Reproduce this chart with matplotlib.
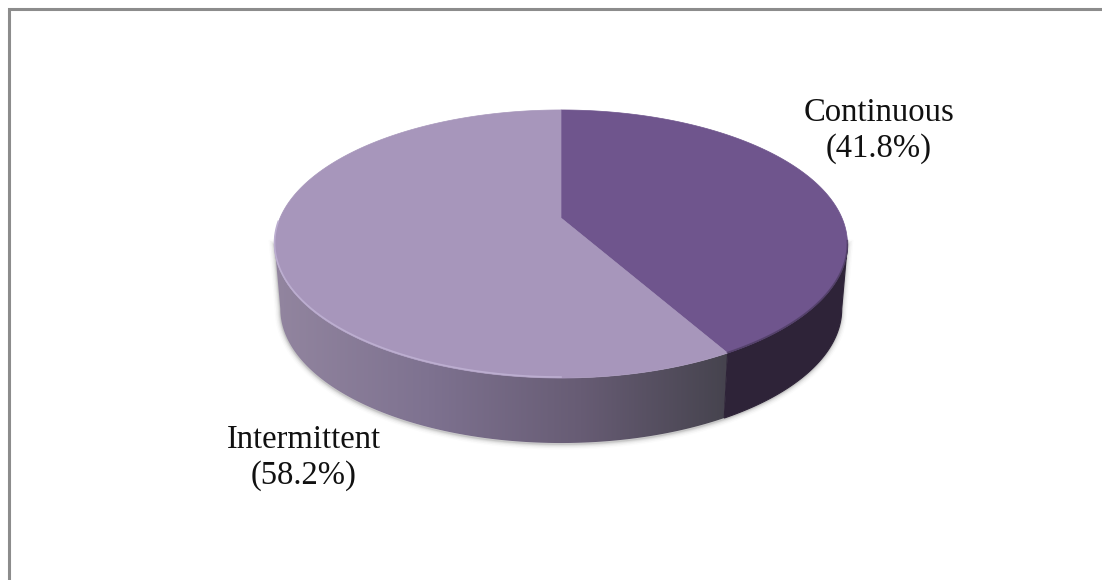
import numpy as np
import matplotlib
matplotlib.use('Agg')
import matplotlib.pyplot as plt
from matplotlib.colors import LinearSegmentedColormap
from matplotlib.patches import Polygon

# data
labels = ['Continuous', 'Intermittent']
shares = [41.8, 58.2]
top_colors = ['#6f558d', '#a796bb']
side_color = '#2e2338'
side_stops = ['#92859f', '#7e7290', '#675c74', '#44424c']

# pie geometry in pixels (perspective view of a disc)
cx, cy = 561, 218
rx = 281
ry = 86.7
persp = 0.194
depth = 65
shrink = 0.98


def rim(t):
    u, v = np.sin(t), np.cos(t)
    d = 1 + persp * v
    return cx + rx * u / d, (cy - ry * v) / d


def lower(t):
    x, y = rim(t)
    return cx + (x - cx) * shrink, y + depth


def side_poly(t):
    x1, y1 = rim(t)
    x2, y2 = lower(t)
    return np.column_stack([np.r_[x1, x2[::-1]], np.r_[y1, y2[::-1]]])


fig = plt.figure(figsize=(11.02, 5.8), dpi=100, facecolor='white')
ax = fig.add_axes([0, 0, 1, 1])

# outer frame, only top and left are visible
ax.plot([1102, 9, 9], [9, 9, 580], color='#8c8c8c', lw=2.2, solid_joinstyle='miter')

split = 2 * np.pi * shares[0] / sum(shares)
t_all = np.linspace(0, 2 * np.pi, 720)
rim_x = rim(t_all)[0]
t_right = t_all[np.argmax(rim_x)]
t_left = t_all[np.argmin(rim_x)]
t_cont = np.linspace(t_right, split, 200)
t_inter = np.linspace(split, t_left, 300)
t_front = np.linspace(t_right, t_left, 500)

# soft shadow under the disc, runs from rim to rim around the bottom
sx, sy = lower(t_front)
sx = np.r_[rim(t_right)[0], sx, rim(t_left)[0]]
sy = np.r_[rim(t_right)[1], sy, rim(t_left)[1]]
for lw, a in [(8, 0.02), (6, 0.04), (4, 0.06), (2.5, 0.08), (1.2, 0.12)]:
    ax.plot(sx, sy + 1, color='#404040', lw=lw, alpha=a, zorder=1)

# side walls
side_cmap = LinearSegmentedColormap.from_list('side', side_stops)
wall = Polygon(side_poly(t_inter), closed=True, fc='none', ec='none', zorder=2)
ax.add_patch(wall)
grad = ax.imshow(np.linspace(0, 1, 256).reshape(1, -1), cmap=side_cmap, aspect='auto',
                 extent=[275, 735, 450, 240], zorder=2)
grad.set_clip_path(wall)
ax.add_patch(Polygon(side_poly(t_cont), closed=True, fc=side_color, ec=side_color, lw=0.8, zorder=2.5))

# top faces
for start, end, col in [(0, split, top_colors[0]), (split, 2 * np.pi, top_colors[1])]:
    t = np.linspace(start, end, 300)
    x, y = rim(t)
    pts = np.column_stack([np.r_[cx, x], np.r_[cy, y]])
    ax.add_patch(Polygon(pts, closed=True, fc=col, ec=col, lw=0.5, zorder=3))

# bevel along the front edge
ex, ey = rim(np.radians(np.linspace(180, 268, 200)))
ax.plot(ex, ey - 1, color='#bcaed0', lw=1.2, zorder=4)
ex, ey = rim(np.radians(np.linspace(100, np.degrees(split), 100)))
ax.plot(ex, ey - 0.5, color='#4a3a5e', lw=1.2, alpha=0.7, zorder=4)

# labels
text_style = dict(family='Liberation Serif', fontsize=23.5, color='#111111',
                  ha='center', va='center', linespacing=1.2, zorder=5)
ax.text(879, 131, f'{labels[0]}\n({shares[0]}%)', **text_style)
ax.text(304, 458, f'{labels[1]}\n({shares[1]}%)', **text_style)

ax.set_xlim(0, 1102)
ax.set_ylim(580, 0)
ax.axis('off')

fig.savefig('out.png', dpi=100, facecolor='white')
